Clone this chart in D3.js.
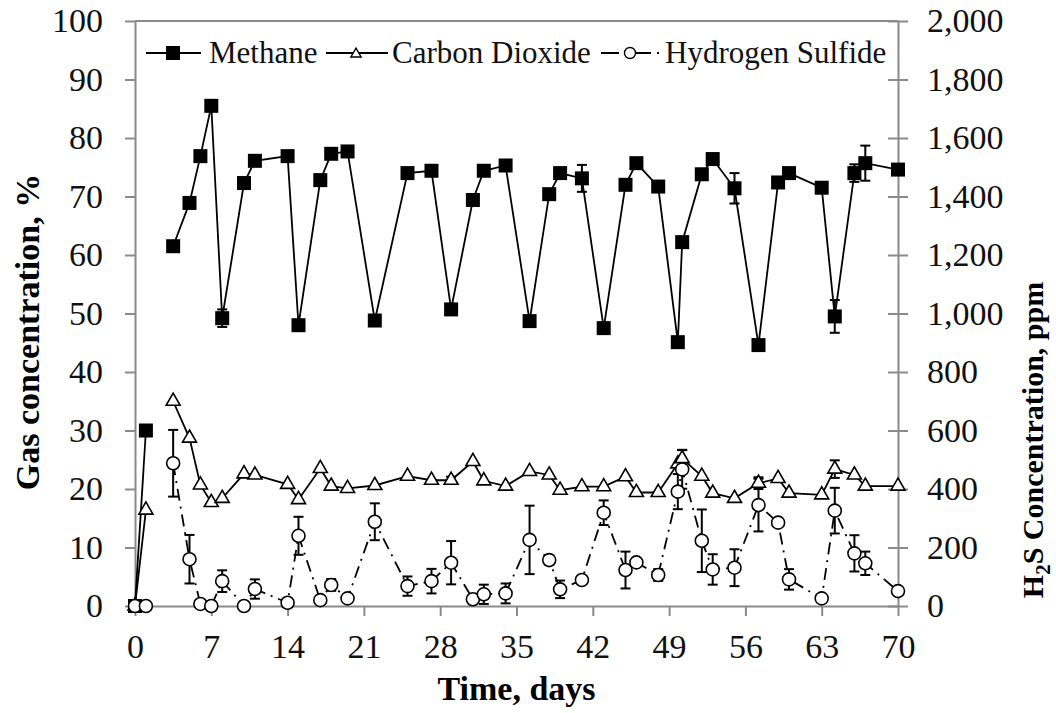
<!DOCTYPE html>
<meta charset="utf-8">
<style>
body { margin: 0; background: #fff; }
svg { font-family: "Liberation Serif", "Times New Roman", serif; }
.axis path, .axis line { fill: none; stroke: #8a8a8a; stroke-width: 2px; }
.axis text { fill: #111; font-size: 34px; font-family: "Liberation Serif", serif; }
.title { font-weight: bold; font-size: 34px; fill: #000; }
.legend text { font-size: 31px; fill: #111; }
</style>
<body>
<script src="https://d3js.org/d3.v7.min.js"></script>
<script>

// sampling days (shared by all three series)
const days = [0, 1, 3.5, 5, 6, 7, 8, 10, 11, 14, 15, 17, 18, 19.5, 22, 25, 27.2, 29, 31, 32,
  34, 36.2, 38, 39, 41, 43, 45, 46, 48, 49.8, 50.2, 52, 53, 55, 57.2, 59, 60, 63, 64.2, 66, 67, 70];

// the plotted lines are not joined between these two runs
const runs = [[0, 1], [2, 41]];

// methane, %
const methane = [0, 30, 61.5, 68.9, 76.9, 85.5, 49.2, 72.3, 76.1, 76.9, 48, 72.8, 77.3, 77.7, 48.8,
  74, 74.4, 50.7, 69.4, 74.4, 75.3, 48.7, 70.4, 74, 73.1, 47.5, 72, 75.7, 71.7, 45.1,
  62.2, 73.8, 76.4, 71.4, 44.6, 72.4, 74, 71.5, 49.5, 74, 75.7, 74.6];
const methaneErr = [0, 0, 0, 0, 0, 0, 1.5, 0, 0, 0, 0, 0, 0, 0, 0, 0, 0, 0, 0, 0,
  0, 0, 0, 0, 2.3, 0, 0, 0, 0, 0, 0, 0, 0, 2.6, 0, 0, 0, 0, 2.8, 1.5, 3, 0];

// carbon dioxide, %
const co2 = [0, 16.4, 35, 28.7, 20.7, 17.7, 18.4, 22.6, 22.4, 20.8, 18.2, 23.5, 20.5, 20.1, 20.6,
  22.2, 21.5, 21.5, 24.7, 21.4, 20.5, 23, 22.4, 19.8, 20.4, 20.4, 22.1, 19.4, 19.4, 24.3,
  25.2, 22.2, 19.3, 18.4, 21, 21.8, 19.3, 19, 23.4, 22.4, 20.5, 20.5];
const co2Err = [0, 0, 0, 0, 0, 0, 0, 0, 0, 0, 0, 0, 0, 0, 0, 0, 0, 0.6, 0, 0,
  0, 0, 0, 0, 0, 0, 0, 0, 0, 0, 1.5, 0, 0, 0, 1, 0, 0, 0, 1.5, 0, 0, 0];

// hydrogen sulfide, ppm (right axis)
const h2s = [0, 0, 488, 160, 7, 0, 85, 0, 58, 11, 240, 20, 72, 26, 288, 68, 85, 148, 23, 40,
  43, 226, 157, 57, 89, 319, 123, 149, 106, 391, 467, 223, 125, 131, 345, 285, 91, 26, 326, 180, 146, 51];
const h2sErr = [0, 0, 114, 83, 0, 0, 37, 0, 33, 0, 65, 0, 20, 0, 63, 33, 42, 74, 0, 33,
  34, 117, 15, 30, 0, 42, 63, 0, 20, 60, 66, 107, 52, 63, 90, 0, 35, 0, 78, 62, 40, 0];

const xTicks = [0, 7, 14, 21, 28, 35, 42, 49, 56, 63, 70];
const yTicks = [0, 10, 20, 30, 40, 50, 60, 70, 80, 90, 100];
const y2Ticks = [0, 200, 400, 600, 800, 1000, 1200, 1400, 1600, 1800, 2000];

const width = 1056, height = 713;
const margin = {top: 21, right: 158, bottom: 107, left: 135};

const x = d3.scaleLinear().domain([0, 70]).range([margin.left, width - margin.right]);
const y = d3.scaleLinear().domain([0, 100]).range([height - margin.bottom, margin.top]);
const y2 = d3.scaleLinear().domain([0, 2000]).range([height - margin.bottom, margin.top]);

const svg = d3.select("body").append("svg")
    .attr("width", width)
    .attr("height", height);

// top border of plot frame
svg.append("line")
    .attr("x1", x(0)).attr("x2", x(70))
    .attr("y1", y(100)).attr("y2", y(100))
    .attr("stroke", "#8a8a8a").attr("stroke-width", 2);

svg.append("g")
    .attr("class", "axis")
    .attr("transform", `translate(${x(0)},0)`)
    .call(d3.axisLeft(y).tickValues(yTicks).tickSize(10).tickSizeOuter(0).tickPadding(22));

const right = svg.append("g")
    .attr("class", "axis")
    .attr("transform", `translate(${x(70)},0)`)
    .call(d3.axisRight(y2).tickValues(y2Ticks).tickFormat(d3.format(",")).tickSize(10).tickSizeOuter(0).tickPadding(19));
right.selectAll(".tick line").attr("x1", -10);

svg.append("g")
    .attr("class", "axis")
    .attr("transform", `translate(0,${y(0)})`)
    .call(d3.axisBottom(x).tickValues(xTicks).tickSize(10).tickSizeOuter(0).tickPadding(18));

// axis titles
svg.append("text")
    .attr("class", "title")
    .attr("transform", `translate(39,332) rotate(-90)`)
    .attr("text-anchor", "middle")
    .text("Gas concentration, %");

const t2 = svg.append("text")
    .attr("class", "title")
    .style("font-size", "30px")
    .attr("transform", `translate(1043,440) rotate(-90)`)
    .attr("text-anchor", "middle");
t2.append("tspan").text("H");
t2.append("tspan").attr("dy", 7).style("font-size", "21px").text("2");
t2.append("tspan").attr("dy", -7).text("S Concentration, ppm");

svg.append("text")
    .attr("class", "title")
    .attr("x", (x(0) + x(70)) / 2)
    .attr("y", 700)
    .attr("text-anchor", "middle")
    .text("Time, days");

// lines, one path per run
const lineOf = (vals, scale) => d3.line().x(i => x(days[i])).y(i => scale(vals[i]));

function drawLine(vals, scale, dash) {
  runs.forEach(([a, b]) => {
    svg.append("path").datum(d3.range(a, b + 1))
        .attr("fill", "none").attr("stroke", "#000").attr("stroke-width", 1.8)
        .attr("stroke-dasharray", dash)
        .attr("d", lineOf(vals, scale));
  });
}
drawLine(methane, y, null);
drawLine(co2, y, null);
drawLine(h2s, y2, "12,6,2,6");

const idx = d3.range(days.length);

// error bars
function errorBars(vals, errs, scale) {
  const g = svg.append("g").attr("stroke", "#000").attr("stroke-width", 2);
  const sel = idx.filter(i => errs[i] > 0);
  g.selectAll(".v").data(sel).join("line")
      .attr("x1", i => x(days[i])).attr("x2", i => x(days[i]))
      .attr("y1", i => scale(vals[i] - errs[i])).attr("y2", i => scale(vals[i] + errs[i]));
  [-1, 1].forEach(s => {
    g.selectAll(".c" + (s + 1)).data(sel).join("line")
        .attr("x1", i => x(days[i]) - 5).attr("x2", i => x(days[i]) + 5)
        .attr("y1", i => scale(vals[i] + s * errs[i])).attr("y2", i => scale(vals[i] + s * errs[i]));
  });
}
errorBars(methane, methaneErr, y);
errorBars(co2, co2Err, y);
errorBars(h2s, h2sErr, y2);

// markers
const tri = d3.symbol(d3.symbolTriangle).size(85);

svg.append("g").selectAll("rect").data(idx).join("rect")
    .attr("x", i => x(days[i]) - 7).attr("y", i => y(methane[i]) - 7)
    .attr("width", 14).attr("height", 14)
    .attr("fill", "#000");

svg.append("g").selectAll("path").data(idx).join("path")
    .attr("transform", i => `translate(${x(days[i])},${y(co2[i])})`)
    .attr("d", tri)
    .attr("fill", "#fff").attr("stroke", "#000").attr("stroke-width", 1.6);

svg.append("g").selectAll("circle").data(idx).join("circle")
    .attr("cx", i => x(days[i])).attr("cy", i => y2(h2s[i]))
    .attr("r", 6.5)
    .attr("fill", "#fff").attr("stroke", "#000").attr("stroke-width", 1.6);

// legend
const legend = svg.append("g").attr("class", "legend");
const ly = 53;

legend.append("line").attr("x1", 146).attr("x2", 201).attr("y1", ly).attr("y2", ly)
    .attr("stroke", "#000").attr("stroke-width", 1.8);
legend.append("rect").attr("x", 166).attr("y", ly - 7).attr("width", 14).attr("height", 14).attr("fill", "#000");
legend.append("text").attr("x", 209).attr("y", 63).text("Methane");

legend.append("line").attr("x1", 326).attr("x2", 388).attr("y1", ly).attr("y2", ly)
    .attr("stroke", "#000").attr("stroke-width", 1.8);
legend.append("path").attr("transform", `translate(356,${ly + 1})`).attr("d", d3.symbol(d3.symbolTriangle).size(45))
    .attr("fill", "#fff").attr("stroke", "#000").attr("stroke-width", 1.4);
legend.append("text").attr("x", 392).attr("y", 63).text("Carbon Dioxide");

legend.append("line").attr("x1", 601).attr("x2", 660).attr("y1", ly).attr("y2", ly)
    .attr("stroke", "#000").attr("stroke-width", 1.8).attr("stroke-dasharray", "18,6,2,6");
legend.append("circle").attr("cx", 630).attr("cy", ly).attr("r", 5.5)
    .attr("fill", "#fff").attr("stroke", "#000").attr("stroke-width", 1.4);
legend.append("text").attr("x", 665).attr("y", 63).text("Hydrogen Sulfide");

</script>
